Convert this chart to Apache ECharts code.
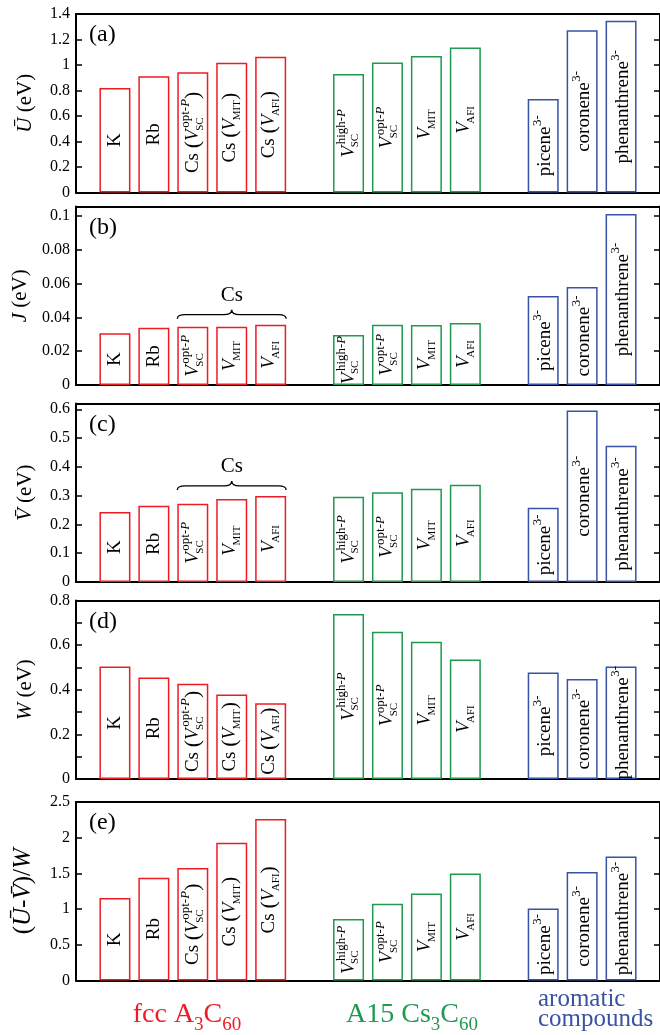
<!DOCTYPE html>
<html><head><meta charset="utf-8">
<script src="https://cdn.jsdelivr.net/npm/echarts@6/dist/echarts.min.js"></script>
<style>html,body{margin:0;padding:0;background:#fff}#c{width:660px;height:1035px}</style>
</head><body><div id="c"></div>
<script>
// ---------------- data ----------------
const catFcc  = ['K', 'Rb', 'Cs-opt', 'Cs-MIT', 'Cs-AFI'];
const catA15  = ['high', 'opt', 'MIT', 'AFI'];
const catArom = ['picene', 'coronene', 'phenanthrene'];

const U_fcc  = [0.820, 0.912, 0.944, 1.017, 1.064];
const U_a15  = [0.930, 1.020, 1.070, 1.138];
const U_arom = [0.734, 1.272, 1.347];

const J_fcc  = [0.0306, 0.0339, 0.0345, 0.0345, 0.0357];
const J_a15  = [0.0296, 0.0357, 0.0355, 0.0367];
const J_arom = [0.0527, 0.0580, 0.1012];

const V_fcc  = [0.243, 0.265, 0.272, 0.288, 0.299];
const V_a15  = [0.296, 0.312, 0.324, 0.338];
const V_arom = [0.258, 0.596, 0.473];

const W_fcc  = [0.504, 0.455, 0.427, 0.379, 0.340];
const W_a15  = [0.740, 0.660, 0.615, 0.536];
const W_arom = [0.477, 0.448, 0.504];

const R_fcc  = [1.155, 1.439, 1.575, 1.930, 2.262];
const R_a15  = [0.860, 1.075, 1.219, 1.500];
const R_arom = [1.009, 1.519, 1.738];

const yMax      = [1.4, 0.1056, 0.62, 0.8, 2.5];
const yInterval = [0.2, 0.02, 0.1, 0.2, 0.5];
const panelTags = ['(a)', '(b)', '(c)', '(d)', '(e)'];

// ---------------- styling ----------------
const FF = '"Liberation Serif","Times New Roman",serif';
const RED = '#ed1c24', GREEN = '#1f9a4f', BLUE = '#3953a4';
const tops = [14, 206.5, 403.5, 600.5, 802];
const GH = 178.5, GL = 76, GW = 585;
const BARW = 31;

const cv = document.createElement('canvas').getContext('2d');
function tw(t, size, it) { cv.font = (it ? 'italic ' : '') + size + 'px "Liberation Serif"'; return cv.measureText(t).width; }

const ST = {
  n:    {size: 19, it: false, lh: 11},
  i:    {size: 19, it: true,  lh: 11},
  p:    {size: 22, it: false, lh: 11},
  sup:  {size: 13, it: false, lh: 3},
  supi: {size: 13, it: true,  lh: 3},
  sub:  {size: 11, it: false, lh: 3}
};
const barRich = {};
for (const k in ST) barRich[k] = {fontFamily: FF, fontSize: ST[k].size, fontStyle: ST[k].it ? 'italic' : 'normal', lineHeight: ST[k].lh, color: '#000'};
function spacer(w) {
  if (w < 0.3) return '';
  const r = Math.round(w * 10); const nm = 'w' + r;
  if (!barRich[nm]) barRich[nm] = {width: r / 10, lineHeight: 1, fontSize: 2, color: 'rgba(0,0,0,0)'};
  return '{' + nm + '| }';
}
function toks(a) { return a.map(([s, t]) => '{' + s + '|' + t + '}').join(''); }
function wid(a) { return a.reduce((acc, [s, t]) => acc + tw(t, ST[s].size, ST[s].it), 0); }
function build(spec) {
  const pre = (spec.pre || []).concat(spec.base || []);
  const wp = wid(pre);
  const sup = spec.sup || [], sub = spec.sub || [], post = spec.post || [];
  const italicBase = (spec.base || []).length > 0;
  const supShift = italicBase ? 1.5 : 0.5, subShift = italicBase ? -1.5 : 0;
  const wsup = sup.length ? wid(sup) + supShift : 0;
  const wsub = sub.length ? wid(sub) + subShift : 0;
  const wss = Math.max(wsup, wsub);
  const wpost = wid(post);
  const W = wp + wss + wpost;
  const lines = [];
  if (sup.length) lines.push(spacer(wp + supShift) + toks(sup) + spacer(W - wp - wsup));
  lines.push(toks(pre) + spacer(wss) + toks(post));
  if (sub.length) lines.push(spacer(wp + subShift) + toks(sub) + spacer(W - wp - wsub));
  return lines.join('\n');
}
const V_ = [['i', 'V']];
const vSpec = {
  opt:  {base: V_, sup: [['sup', 'opt-'], ['supi', 'P']], sub: [['sub', 'SC']]},
  high: {base: V_, sup: [['sup', 'high-'], ['supi', 'P']], sub: [['sub', 'SC']]},
  MIT:  {base: V_, sub: [['sub', 'MIT']]},
  AFI:  {base: V_, sub: [['sub', 'AFI']]}
};
function csWrap(s) { return Object.assign({}, s, {pre: [['n', 'Cs '], ['p', '(']], post: [['p', ')']]}); }
const specLong = {
  'K': {pre: [['n', 'K']]}, 'Rb': {pre: [['n', 'Rb']]},
  'Cs-opt': csWrap(vSpec.opt), 'Cs-MIT': csWrap(vSpec.MIT), 'Cs-AFI': csWrap(vSpec.AFI),
  'high': vSpec.high, 'opt': vSpec.opt, 'MIT': vSpec.MIT, 'AFI': vSpec.AFI,
  'picene': {pre: [['n', 'picene']], sup: [['sup', '3-']]},
  'coronene': {pre: [['n', 'coronene']], sup: [['sup', '3-']]},
  'phenanthrene': {pre: [['n', 'phenanthrene']], sup: [['sup', '3-']]}
};
const specShort = Object.assign({}, specLong, {'Cs-opt': vSpec.opt, 'Cs-MIT': vSpec.MIT, 'Cs-AFI': vSpec.AFI});

const panels = [
  {fcc: U_fcc, a15: U_a15, arom: U_arom, spec: specLong,  name: '{i|Ū}{n| (eV)}', fs: 21, brace: false},
  {fcc: J_fcc, a15: J_a15, arom: J_arom, spec: specShort, name: '{i|J}{n| (eV)}', fs: 21, brace: true},
  {fcc: V_fcc, a15: V_a15, arom: V_arom, spec: specShort, name: '{i|V\u0304}{n| (eV)}', fs: 21, brace: true},
  {fcc: W_fcc, a15: W_a15, arom: W_arom, spec: specLong,  name: '{i|W}{n| (eV)}', fs: 21, brace: false},
  {fcc: R_fcc, a15: R_a15, arom: R_arom, spec: specLong,  name: '{n|(}{i|Ū}{n|-}{i|V\u0304}{n|)/}{i|W}', fs: 25, brace: false}
];
const groups = [
  {key: 'fcc', cats: catFcc, start: 1, color: RED},
  {key: 'a15', cats: catA15, start: 7, color: GREEN},
  {key: 'arom', cats: catArom, start: 12, color: BLUE}
];

// pre-build every label string so the rich style table is complete before setOption
const labelText = panels.map(P => groups.map(g => g.cats.map(c => build(P.spec[c]))));

const grid = [], xAxis = [], yAxis = [], series = [], graphic = [];
panels.forEach((P, k) => {
  grid.push({left: GL, width: GW, top: tops[k], height: GH});
  const xBase = {gridIndex: k, type: 'value', min: 0, max: 15, axisTick: {show: false}, axisLabel: {show: false}, splitLine: {show: false},
    axisLine: {show: true, onZero: false, lineStyle: {color: '#000', width: 2}}};
  xAxis.push(Object.assign({}, xBase, {position: 'bottom'}));
  xAxis.push(Object.assign({}, xBase, {position: 'top'}));
  const showMax = Math.abs(yMax[k] / yInterval[k] - Math.round(yMax[k] / yInterval[k])) < 1e-6;
  const yBase = {gridIndex: k, type: 'value', min: 0, max: yMax[k], interval: yInterval[k], splitLine: {show: false},
    axisLine: {show: true, onZero: false, lineStyle: {color: '#000', width: 2}},
    axisTick: {show: true, inside: true, length: 6, lineStyle: {color: '#000', width: 1.5}},
    minorTick: k === 3 ? {show: true, splitNumber: 2, length: 6, lineStyle: {color: '#000', width: 1.5}} : {show: false}};
  const nameRich = {
    n: {fontFamily: FF, fontSize: P.fs, color: '#000'},
    i: {fontFamily: FF, fontSize: P.fs, fontStyle: 'italic', color: '#000'}
  };
  yAxis.push(Object.assign({}, yBase, {position: 'left',
    axisLabel: {show: true, fontFamily: FF, fontSize: 16, color: '#000', margin: 6, showMaxLabel: showMax, showMinLabel: true},
    name: P.name, nameLocation: 'middle', nameGap: 40, nameRotate: 90, nameTextStyle: {rich: nameRich}}));
  yAxis.push(Object.assign({}, yBase, {position: 'right', axisLabel: {show: false}}));

  groups.forEach((g, gi) => {
    const vals = P[g.key];
    const texts = labelText[k][gi];
    series.push({
      type: 'bar', xAxisIndex: 2 * k, yAxisIndex: 2 * k, barWidth: BARW, barGap: '-100%',
      data: vals.map((v, i) => [g.start + i, v]),
      itemStyle: {color: '#fff', borderColor: g.color, borderWidth: 1.5},
      label: {show: true, position: 'inside', rotate: 90, color: '#000',
        formatter: (p) => texts[p.dataIndex], rich: barRich},
      emphasis: {disabled: true}, silent: true
    });
  });

  if (P.brace) {
    const csVals = P.fcc.slice(2);
    series.push({
      type: 'custom', xAxisIndex: 2 * k, yAxisIndex: 2 * k, silent: true,
      data: [[3, 5, Math.max.apply(null, csVals)]],
      encode: {x: [0, 1], y: 2},
      renderItem: (params, api) => {
        const a = api.coord([api.value(0), api.value(2)]);
        const b = api.coord([api.value(1), api.value(2)]);
        const xa = a[0] - BARW / 2, xb = b[0] + BARW / 2, xm = (xa + xb) / 2;
        const yb = a[1] - 10, r = 8, dn = 4, up = 5;
        const d = `M${xa},${yb + dn} Q${xa},${yb} ${xa + r},${yb} L${xm - r},${yb} Q${xm},${yb} ${xm},${yb - up} Q${xm},${yb} ${xm + r},${yb} L${xb - r},${yb} Q${xb},${yb} ${xb},${yb + dn}`;
        return {type: 'group', children: [
          {type: 'path', shape: {pathData: d}, style: {fill: null, stroke: '#000', lineWidth: 1.4}},
          {type: 'text', x: xm, y: yb - 19, style: {text: 'Cs', fontFamily: FF, fontSize: 21, fill: '#000', align: 'center', verticalAlign: 'middle'}}
        ]};
      }
    });
  }
  graphic.push({type: 'text', left: 89, top: tops[k] + 9, style: {text: panelTags[k], fontFamily: FF, fontSize: 24, fill: '#000'}});
});

graphic.push({type: 'text', x: 187, y: 1015, style: {
  text: '{r|fcc A}{s|3}{r|C}{s|60}', align: 'center', verticalAlign: 'middle',
  rich: {r: {fontFamily: FF, fontSize: 28, lineHeight: 40, fill: RED, color: RED}, s: {fontFamily: FF, fontSize: 19, verticalAlign: 'bottom', lineHeight: 40, fill: RED, color: RED}}}});
graphic.push({type: 'text', x: 412, y: 1015, style: {
  text: '{r|A15 Cs}{s|3}{r|C}{s|60}', align: 'center', verticalAlign: 'middle',
  rich: {r: {fontFamily: FF, fontSize: 28, lineHeight: 40, fill: GREEN, color: GREEN}, s: {fontFamily: FF, fontSize: 19, verticalAlign: 'bottom', lineHeight: 40, fill: GREEN, color: GREEN}}}});
graphic.push({type: 'text', x: 538, y: 1009, style: {
  text: 'aromatic\ncompounds', align: 'left', verticalAlign: 'middle', fontFamily: FF, fontSize: 25, lineHeight: 20, fill: BLUE}});

const chart = echarts.init(document.getElementById('c'), null, {renderer: 'canvas'});
chart.setOption({animation: false, backgroundColor: '#fff', grid, xAxis, yAxis, series, graphic});
</script>
</body></html>
